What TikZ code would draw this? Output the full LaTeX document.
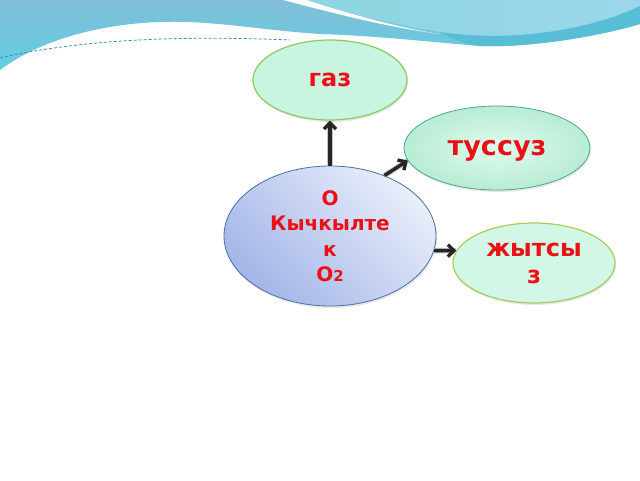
\documentclass[tikz,border=0pt]{standalone}
\usepackage{fontspec}
\setmainfont{DejaVu Sans}
\usetikzlibrary{arrows.meta,shapes.geometric,shadows}

\definecolor{wordred}{RGB}{234,16,22}
\definecolor{waveblue}{RGB}{130,190,215}
\definecolor{wavecyan}{RGB}{96,206,228}
\definecolor{waveright}{RGB}{140,214,222}
\definecolor{waverightb}{RGB}{156,214,236}
\definecolor{waveteal}{RGB}{88,190,216}
\definecolor{mint}{RGB}{200,245,224}
\definecolor{mintlight}{RGB}{222,252,238}
\definecolor{mintedge}{RGB}{184,236,212}
\definecolor{leafgreen}{RGB}{140,200,100}
\definecolor{seagreen}{RGB}{74,168,138}
\definecolor{limegreen}{RGB}{168,204,90}
\definecolor{oxyline}{RGB}{74,110,168}
\definecolor{oxylight}{RGB}{232,238,250}
\definecolor{oxydark}{RGB}{164,182,232}

\tikzset{
  bubble/.style={ellipse, inner sep=0pt, text=wordred, align=center, text depth=0pt,
    drop shadow={opacity=0.18, shadow xshift=1pt, shadow yshift=-2pt}},
  link/.style={line width=3.4pt, draw=black!85, -{Straight Barb[length=6pt,width=12pt]},
    preaction={draw=gray!45, line width=5.5pt, -}},
}

\begin{document}
\begin{tikzpicture}[x=1pt,y=-1pt]
\useasboundingbox (0,0) rectangle (640,480);

% header waves
\shade[top color=waveblue, bottom color=wavecyan] (0,0) -- (640,0) -- (640,24)
  .. controls (600,36) and (530,48) .. (480,46)
  .. controls (430,42) and (380,36) .. (320,34)
  .. controls (260,30) and (210,20) .. (160,22)
  .. controls (100,24) and (40,40) .. (0,70) -- cycle;
\fill[white] (283,0) .. controls (330,12) and (380,26) .. (440,34)
  .. controls (400,28) and (350,14) .. (307,0) -- cycle;
\shade[left color=waveright, right color=waverightb] (307,0)
  .. controls (350,14) and (400,26) .. (440,32)
  .. controls (520,44) and (600,26) .. (640,6) -- (640,0) -- cycle;
\fill[waveteal] (440,32) .. controls (520,44) and (600,26) .. (640,6) -- (640,24)
  .. controls (600,36) and (530,48) .. (480,46)
  .. controls (465,45) and (450,38) .. (440,32) -- cycle;
\draw[oxyline!80!cyan, line width=0.8pt, dash pattern=on 3pt off 2pt]
  (0,58) .. controls (60,44) and (150,34) .. (290,40);

\node[bubble, draw=leafgreen, line width=1.2pt, fill=mint, minimum width=154pt, minimum height=80pt,
  font=\bfseries\fontsize{24}{28}\selectfont] (gaz) at (330,80) {газ};
\node[bubble, draw=seagreen, line width=0.8pt, inner color=mintlight, outer color=mintedge,
  minimum width=186pt, minimum height=84pt, font=\bfseries\fontsize{27}{30}\selectfont] (tus) at (497,148) {туссуз};
\node[bubble, draw=oxyline, line width=0.8pt, top color=oxylight, bottom color=oxydark, shading angle=-45,
  minimum width=212pt, minimum height=140pt, font=\bfseries\fontsize{20}{25.3}\selectfont] (oxy) at (330,236)
  {О\\Кычкылте\\к\\О{\fontsize{15}{15}\selectfont 2}};
\node[bubble, draw=limegreen, line width=1.2pt, fill=mint!80!white, minimum width=162pt, minimum height=80pt,
  font=\bfseries\fontsize{24}{27}\selectfont] (zhyt) at (534,263) {жытсы\\з};

\draw[link] (oxy.north) -- (gaz.south);
\draw[link] (oxy.48) -- (tus.188);
\draw[link] (oxy.-8) -- (zhyt.171);
\end{tikzpicture}
\end{document}
